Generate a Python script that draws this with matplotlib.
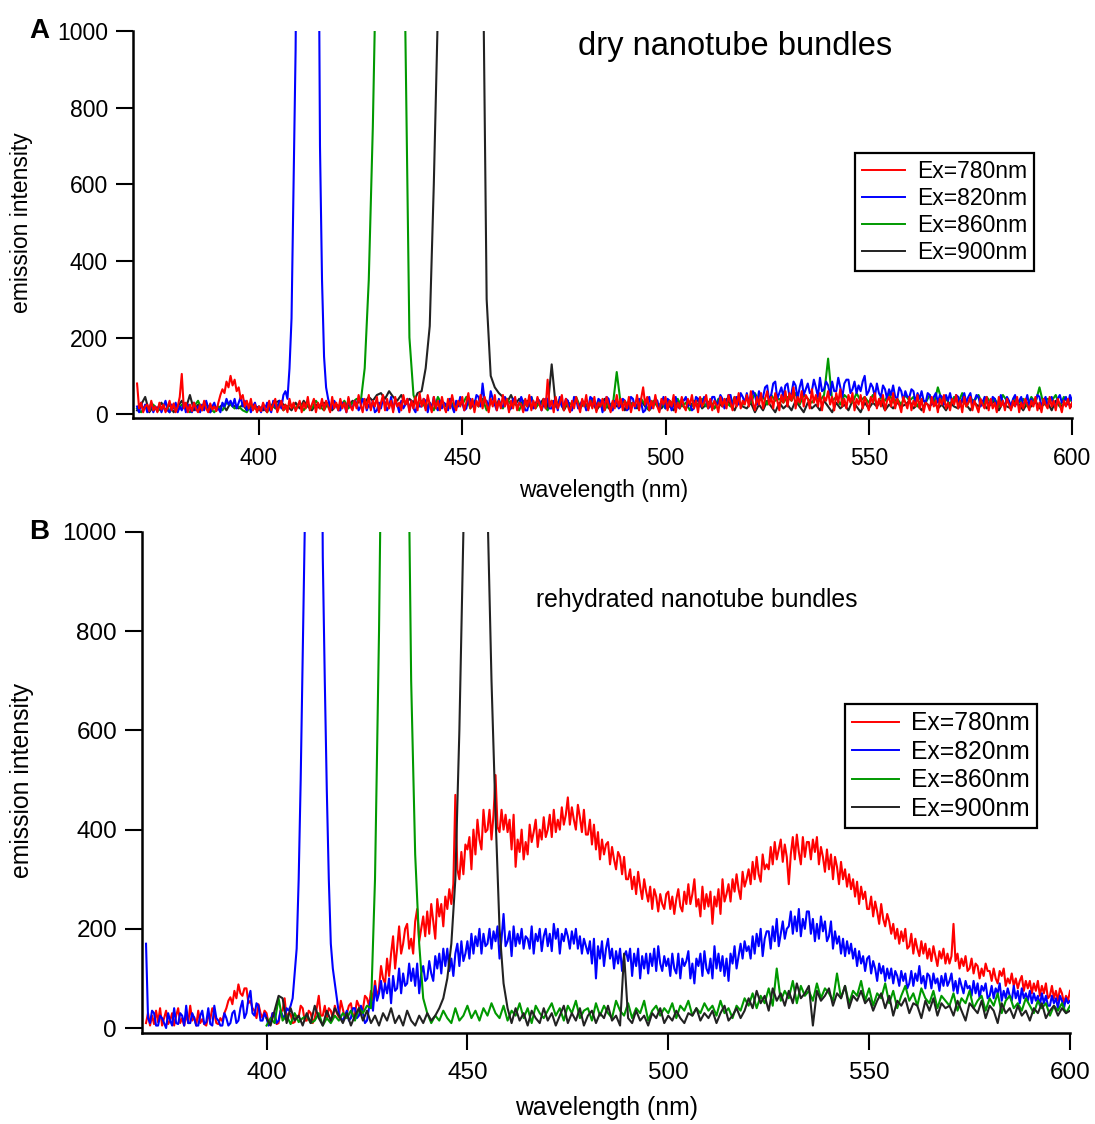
import numpy as np
import matplotlib
matplotlib.use('Agg')
import matplotlib.pyplot as plt

plt.rcParams['font.family'] = ['Liberation Sans', 'DejaVu Sans']

# Wavelength grids (nm)
wl_full = np.arange(370, 601)            # 1 nm steps
wl_late = np.arange(400, 601)            # traces that start at 400 nm
wl_fine = np.linspace(370, 600, 461)     # 0.5 nm steps

series_labels = ['Ex=780nm', 'Ex=820nm', 'Ex=860nm', 'Ex=900nm']
series_colors = ['#ff0000', '#0000ff', '#009900', '#222222']

# ---- Panel A: dry nanotube bundles ----
# 780 / 820 nm read at 0.5 nm steps
dry_780 = [
    80, 15, 30, 5, 20, 25, 8, 35, 10, 20,
    5, 30, 12, 25, 5, 18, 35, 10, 28, 5,
    20, 45, 105, 15, 30, 5, 25, 8, 30, 15,
    5, 25, 10, 35, 15, 5, 28, 12, 20, 8,
    30, 50, 65, 55, 85, 70, 100, 75, 90, 60,
    70, 40, 50, 20, 35, 15, 40, 10, 25, 5,
    20, 8, 30, 15, 5, 35, 10, 25, 40, 5,
    20, 35, 10, 25, 5, 40, 15, 30, 8, 20,
    35, 5, 30, 15, 45, 10, 25, 40, 5, 30,
    15, 40, 10, 35, 20, 5, 45, 15, 30, 10,
    40, 15, 30, 5, 45, 20, 10, 35, 15, 50,
    25, 5, 40, 15, 50, 10, 35, 20, 45, 5,
    30, 50, 10, 40, 15, 35, 5, 45, 20, 30,
    10, 50, 25, 40, 5, 35, 15, 45, 10, 55,
    20, 40, 10, 50, 25, 5, 45, 15, 35, 10,
    45, 20, 5, 40, 15, 50, 25, 10, 35, 20,
    45, 10, 30, 55, 15, 40, 5, 35, 20, 50,
    15, 45, 25, 5, 40, 20, 50, 10, 35, 15,
    50, 20, 40, 5, 35, 15, 45, 10, 30, 25,
    5, 40, 20, 50, 10, 35, 15, 45, 25, 10,
    40, 15, 90, 20, 35, 5, 45, 15, 30, 50,
    10, 40, 20, 5, 35, 15, 45, 25, 5, 40,
    20, 50, 10, 35, 15, 45, 5, 30, 20, 40,
    10, 45, 25, 5, 35, 15, 50, 20, 40, 10,
    35, 15, 45, 5, 30, 20, 50, 10, 40, 70,
    25, 45, 10, 35, 15, 50, 20, 5, 40, 25,
    45, 10, 35, 20, 50, 5, 30, 15, 45, 20,
    10, 40, 25, 50, 15, 35, 5, 45, 20, 30,
    50, 15, 40, 10, 35, 25, 5, 45, 20, 40,
    15, 50, 30, 10, 45, 20, 55, 15, 35, 25,
    50, 20, 60, 30, 10, 45, 25, 55, 15, 40,
    60, 25, 45, 15, 55, 35, 10, 50, 30, 60,
    20, 55, 35, 70, 15, 45, 30, 60, 20, 50,
    40, 15, 65, 30, 50, 20, 55, 10, 45, 35,
    60, 25, 45, 10, 55, 30, 65, 20, 40, 15,
    50, 30, 55, 10, 40, 25, 50, 15, 45, 30,
    10, 45, 30, 55, 15, 40, 20, 50, 10, 35,
    45, 20, 55, 15, 40, 25, 5, 45, 30, 15,
    45, 10, 35, 20, 50, 15, 40, 5, 30, 25,
    10, 45, 20, 35, 5, 40, 25, 50, 15, 30,
    10, 40, 25, 50, 15, 35, 5, 45, 20, 30,
    45, 10, 35, 20, 5, 40, 25, 15, 45, 10,
    40, 15, 30, 5, 45, 20, 35, 10, 40, 25,
    10, 35, 20, 45, 5, 30, 15, 40, 25, 10,
    35, 20, 45, 10, 30, 5, 40, 25, 15, 45,
    20, 35, 10, 40, 25, 5, 35, 20, 40, 15,
    30]
dry_820 = [
    20, 5, 30, 10, 25, 5, 15, 30, 5, 20,
    10, 25, 5, 20, 35, 10, 5, 25, 15, 30,
    5, 20, 10, 30, 5, 25, 15, 5, 30, 10,
    20, 5, 25, 10, 35, 15, 5, 20, 30, 10,
    15, 5, 30, 20, 40, 25, 35, 20, 40, 15,
    30, 45, 20, 35, 10, 25, 5, 20, 30, 10,
    20, 5, 25, 10, 30, 15, 5, 35, 20, 10,
    35, 15, 50, 60, 40, 120, 250, 600, 950, 1600,
    2500, 2500, 2500, 2500, 2500, 2500, 2500, 2500, 2500, 1600,
    700, 350, 150, 70, 40, 20, 15, 35, 25, 10,
    10, 30, 25, 5, 40, 20, 15, 35, 30, 10,
    20, 40, 35, 10, 25, 15, 35, 5, 10, 30,
    15, 40, 30, 10, 20, 45, 10, 35, 25, 5,
    35, 15, 25, 40, 10, 35, 15, 5, 30, 20,
    20, 40, 35, 5, 30, 15, 45, 20, 10, 35,
    15, 30, 25, 10, 40, 20, 5, 35, 20, 45,
    30, 10, 15, 40, 40, 20, 25, 50, 45, 20,
    80, 35, 35, 15, 60, 40, 25, 10, 40, 20,
    20, 45, 35, 10, 15, 40, 40, 20, 25, 45,
    30, 10, 10, 35, 45, 15, 20, 40, 35, 10,
    25, 40, 40, 15, 15, 35, 30, 10, 45, 20,
    20, 40, 35, 10, 10, 45, 40, 15, 25, 35,
    30, 10, 15, 45, 40, 20, 20, 40, 35, 5,
    25, 45, 40, 10, 10, 35, 30, 15, 20, 40,
    35, 10, 15, 45, 40, 15, 25, 40, 30, 5,
    10, 35, 45, 15, 20, 40, 35, 10, 25, 45,
    15, 40, 35, 10, 25, 45, 20, 15, 40, 35,
    45, 20, 30, 10, 15, 45, 40, 20, 25, 45,
    35, 15, 20, 45, 45, 25, 30, 50, 40, 15,
    25, 50, 50, 20, 35, 45, 25, 55, 45, 30,
    55, 30, 40, 60, 50, 25, 60, 40, 45, 70,
    75, 35, 50, 80, 85, 40, 55, 70, 45, 75,
    80, 45, 55, 85, 75, 40, 70, 90, 50, 65,
    80, 55, 60, 90, 70, 45, 95, 60, 65, 85,
    75, 50, 85, 60, 60, 95, 70, 45, 80, 90,
    90, 55, 65, 85, 55, 75, 60, 85, 100, 50,
    60, 80, 70, 45, 80, 55, 45, 75, 65, 40,
    65, 50, 75, 45, 40, 70, 60, 35, 60, 45,
    45, 65, 60, 30, 55, 40, 60, 35, 30, 55,
    50, 25, 45, 55, 30, 50, 45, 25, 50, 35,
    55, 30, 30, 50, 45, 20, 40, 55, 30, 45,
    55, 25, 35, 50, 45, 20, 30, 45, 40, 25,
    25, 45, 40, 20, 35, 50, 30, 20, 45, 35,
    20, 40, 50, 25, 35, 45, 25, 30, 50, 20,
    40, 25, 30, 50, 45, 20, 35, 45, 20, 40,
    45, 25, 20, 40, 50, 30, 35, 45, 25, 50,
    35]
# 860 / 900 nm read at 1 nm steps
dry_860 = [
    15, 5, 20, 10, 25, 8, 15, 30, 5, 20,
    10, 25, 15, 5, 20, 35, 10, 25, 15, 5,
    20, 10, 30, 25, 15, 20, 10, 5, 25, 15,
    10, 20, 5, 25, 15, 30, 10, 20, 25, 15,
    30, 10, 25, 15, 35, 20, 10, 30, 15, 25,
    20, 35, 15, 30, 40, 30, 120, 350, 750, 1300,
    2500, 2500, 2500, 2500, 2500, 1800, 1000, 200, 50, 20,
    35, 15, 30, 10, 45, 25, 20, 40, 15, 30,
    25, 45, 15, 35, 20, 40, 10, 30, 25, 35,
    15, 40, 25, 30, 10, 35, 20, 45, 15, 30,
    25, 10, 35, 20, 40, 15, 30, 25, 45, 20,
    30, 15, 40, 25, 35, 10, 30, 20, 110, 25,
    35, 15, 30, 20, 40, 25, 10, 35, 20, 30,
    15, 35, 25, 40, 20, 30, 10, 35, 25, 40,
    20, 35, 15, 40, 25, 30, 20, 45, 30, 25,
    40, 30, 55, 35, 45, 25, 50, 35, 40, 30,
    45, 35, 55, 25, 50, 40, 30, 45, 35, 50,
    145, 35, 45, 25, 50, 40, 30, 55, 35, 45,
    30, 50, 25, 45, 35, 55, 30, 40, 25, 50,
    35, 45, 20, 40, 30, 50, 25, 70, 35, 40,
    25, 45, 30, 55, 20, 40, 35, 50, 25, 45,
    30, 40, 20, 50, 35, 25, 45, 30, 40, 20,
    45, 30, 70, 25, 40, 35, 50, 20, 45, 30,
    40]
dry_900 = [
    10, 25, 45, 5, 20, 15, 30, 10, 25, 5,
    20, 35, 15, 50, 10, 25, 15, 30, 5, 20,
    15, 25, 10, 30, 20, 15, 25, 10, 20, 15,
    20, 10, 25, 15, 30, 35, 25, 20, 10, 30,
    15, 35, 20, 10, 25, 15, 30, 20, 10, 25,
    15, 30, 20, 35, 25, 40, 30, 45, 35, 50,
    55, 40, 60, 45, 35, 50, 25, 40, 30, 55,
    60, 120, 230, 600, 1050, 2500, 2500, 2500, 2500, 2500,
    2500, 2500, 2500, 2500, 2500, 1300, 300, 100, 70, 55,
    45, 30, 50, 25, 40, 20, 35, 15, 30, 25,
    40, 15, 130, 20, 35, 10, 30, 25, 40, 15,
    30, 20, 35, 10, 25, 40, 15, 30, 20, 35,
    10, 25, 30, 15, 35, 20, 10, 30, 25, 15,
    30, 20, 10, 35, 25, 15, 30, 20, 40, 15,
    25, 35, 15, 30, 20, 40, 25, 10, 35, 20,
    15, 30, 5, 25, 10, 35, 20, 5, 30, 15,
    25, 10, 35, 20, 5, 30, 15, 25, 10, 35,
    20, 5, 30, 15, 25, 10, 35, 20, 5, 30,
    15, 30, 20, 35, 10, 25, 15, 30, 20, 25,
    35, 15, 25, 10, 30, 20, 35, 15, 25, 10,
    30, 20, 15, 35, 25, 10, 30, 20, 35, 15,
    25, 35, 10, 30, 20, 15, 35, 25, 10, 30,
    20, 35, 15, 25, 30, 10, 35, 20, 25, 30,
    20]

# ---- Panel B: rehydrated nanotube bundles ----
# 780 / 820 nm read at 0.5 nm steps
wet_780 = [
    10, 30, 5, 25, 8, 35, 12, 40, 5, 20,
    35, 8, 15, 30, 5, 25, 40, 10, 20, 5,
    28, 10, 45, 15, 22, 5, 35, 10, 18, 8,
    5, 25, 18, 40, 30, 10, 8, 20, 14, 30,
    40, 55, 62, 48, 75, 60, 88, 70, 65, 80,
    80, 50, 55, 40, 35, 20, 48, 30, 20, 35,
    30, 10, 15, 30, 25, 8, 10, 35, 35, 60,
    18, 30, 28, 10, 12, 25, 22, 45, 40, 15,
    15, 35, 30, 10, 20, 40, 65, 25, 25, 45,
    18, 40, 35, 20, 45, 30, 22, 55, 38, 20,
    30, 45, 50, 25, 28, 55, 45, 30, 38, 65,
    60, 45, 75, 55, 95, 60, 80, 125, 100, 90,
    140, 105, 150, 185, 120, 160, 205, 150, 170, 200,
    210, 160, 180, 150, 215, 240, 175, 200, 225, 185,
    235, 190, 250, 215, 180, 260, 225, 250, 205, 265,
    240, 280, 250, 290, 470, 320, 300, 355, 310, 370,
    360, 385, 320, 400, 350, 420, 380, 360, 440, 395,
    400, 440, 380, 430, 510, 405, 395, 440, 400, 430,
    395, 420, 360, 430, 325, 380, 355, 400, 340, 375,
    350, 410, 375, 395, 420, 365, 400, 380, 425, 385,
    400, 430, 385, 440, 395, 420, 400, 445, 410, 430,
    465, 410, 445, 420, 400, 450, 425, 395, 440, 390,
    390, 420, 370, 410, 360, 395, 340, 380, 350, 370,
    375, 330, 365, 340, 320, 355, 345, 310, 345, 300,
    300, 320, 280, 305, 270, 315, 285, 260, 300, 275,
    255, 285, 240, 280, 265, 235, 270, 250, 240, 270,
    275, 240, 265, 230, 260, 280, 245, 235, 275, 250,
    290, 250, 270, 300, 245, 260, 225, 285, 240, 270,
    245, 275, 210, 265, 245, 280, 230, 300, 255, 270,
    290, 255, 300, 275, 310, 280, 260, 315, 285, 300,
    320, 290, 335, 300, 345, 310, 295, 350, 320, 330,
    320, 365, 330, 375, 340, 360, 380, 335, 370, 345,
    290, 350, 385, 340, 390, 355, 330, 385, 345, 375,
    375, 340, 380, 355, 385, 330, 365, 345, 315, 360,
    320, 350, 300, 345, 325, 290, 335, 300, 320, 285,
    310, 280, 300, 265, 295, 250, 285, 260, 275, 240,
    240, 265, 225, 255, 235, 210, 250, 220, 205, 230,
    215, 190, 210, 180, 200, 170, 195, 175, 200, 160,
    165, 190, 150, 180, 160, 145, 175, 150, 170, 140,
    160, 135, 165, 145, 125, 155, 140, 160, 130, 150,
    130, 145, 210, 135, 150, 120, 140, 125, 145, 115,
    120, 140, 110, 130, 125, 100, 120, 105, 130, 115,
    115, 95, 120, 100, 90, 115, 105, 120, 85, 100,
    90, 110, 85, 100, 80, 95, 105, 75, 95, 80,
    95, 70, 90, 75, 95, 65, 85, 70, 90, 60,
    65, 85, 60, 75, 55, 80, 70, 50, 65, 55,
    75]
wet_820 = [
    170, 20, 10, 35, 30, 5, 5, 25, 20, 10,
    0, 30, 15, 5, 40, 10, 8, 30, 25, 5,
    45, 10, 10, 30, 20, 5, 5, 25, 35, 8,
    12, 40, 8, 5, 45, 20, 15, 5, 5, 30,
    20, 5, 10, 30, 35, 10, 15, 40, 55, 20,
    30, 60, 75, 30, 25, 50, 45, 15, 15, 30,
    20, 5, 10, 30, 30, 10, 15, 35, 25, 20,
    40, 35, 45, 60, 110, 160, 300, 500, 750, 1000,
    1500, 2000, 2500, 2500, 2500, 2500, 2500, 1600, 950, 700,
    480, 300, 170, 120, 90, 60, 30, 20, 15, 25,
    35, 15, 20, 40, 40, 20, 25, 45, 30, 10,
    15, 40, 60, 35, 85, 55, 70, 95, 60, 90,
    70, 100, 50, 105, 75, 80, 120, 70, 110, 85,
    90, 130, 95, 120, 85, 130, 70, 110, 125, 95,
    100, 135, 110, 95, 145, 120, 150, 110, 160, 125,
    160, 115, 140, 105, 150, 170, 125, 175, 135, 150,
    175, 140, 190, 150, 185, 165, 200, 150, 190, 165,
    170, 200, 160, 195, 175, 205, 140, 180, 230, 165,
    175, 195, 145, 205, 165, 190, 170, 200, 160, 185,
    180, 160, 205, 150, 190, 175, 200, 155, 185, 200,
    165, 190, 155, 210, 180, 200, 150, 190, 175, 200,
    185, 160, 195, 170, 200, 160, 185, 150, 180, 165,
    150, 175, 130, 180, 100, 165, 140, 175, 125, 160,
    180, 140, 160, 120, 155, 130, 160, 115, 145, 155,
    135, 160, 105, 150, 125, 160, 100, 145, 120, 150,
    110, 150, 125, 160, 115, 165, 130, 115, 145, 125,
    140, 105, 150, 120, 110, 150, 100, 140, 125, 135,
    155, 100, 130, 90, 140, 125, 150, 105, 155, 120,
    110, 140, 100, 165, 120, 150, 115, 145, 105, 140,
    95, 150, 130, 165, 120, 145, 170, 140, 175, 155,
    165, 140, 185, 150, 190, 165, 200, 145, 180, 195,
    195, 160, 205, 175, 220, 165, 190, 215, 180, 200,
    205, 235, 190, 225, 195, 240, 185, 220, 200, 235,
    235, 190, 220, 175, 210, 180, 225, 195, 215, 175,
    185, 215, 160, 195, 170, 185, 150, 180, 145, 175,
    150, 170, 140, 160, 125, 155, 130, 145, 115, 140,
    145, 110, 135, 120, 95, 130, 110, 125, 95, 120,
    100, 120, 90, 115, 105, 85, 115, 95, 110, 80,
    90, 115, 85, 110, 95, 125, 90, 105, 80, 110,
    105, 80, 110, 90, 100, 75, 105, 85, 110, 85,
    95, 110, 75, 95, 70, 100, 85, 70, 95, 80,
    85, 65, 95, 70, 90, 60, 85, 75, 90, 60,
    65, 85, 60, 80, 70, 90, 55, 75, 60, 80,
    65, 55, 85, 60, 75, 50, 80, 60, 70, 55,
    75, 50, 70, 55, 65, 45, 70, 50, 65, 45,
    45, 65, 50, 60, 40, 65, 55, 40, 60, 50,
    55]
# 860 / 900 nm start at 400 nm, 1 nm steps
wet_860 = [
    5, 20, 10, 60, 15, 25, 8, 30, 12, 20,
    25, 10, 15, 30, 5, 20, 10, 25, 15, 30,
    20, 35, 15, 40, 30, 45, 40, 300, 800, 1500,
    2500, 2500, 2500, 2500, 2500, 1400, 700, 350, 170, 60,
    30, 10, 25, 15, 35, 20, 10, 40, 15, 25,
    45, 20, 35, 15, 40, 25, 50, 30, 20, 45,
    15, 35, 25, 50, 20, 40, 10, 45, 30, 20,
    35, 50, 25, 40, 15, 45, 30, 55, 20, 35,
    40, 15, 50, 25, 45, 30, 20, 55, 35, 25,
    50, 20, 40, 30, 55, 15, 35, 45, 25, 40,
    30, 50, 20, 45, 35, 55, 25, 40, 30, 50,
    35, 45, 25, 55, 30, 40, 20, 45, 35, 60,
    45, 70, 40, 65, 50, 80, 45, 120, 55, 75,
    60, 95, 50, 85, 65, 75, 55, 90, 60, 80,
    70, 55, 110, 60, 85, 50, 75, 65, 95, 55,
    80, 45, 70, 60, 90, 50, 75, 40, 65, 85,
    55, 70, 45, 80, 60, 50, 75, 40, 65, 55,
    45, 70, 35, 60, 50, 75, 40, 55, 65, 35,
    60, 45, 70, 30, 55, 65, 40, 50, 35, 60,
    45, 30, 55, 40, 50, 25, 45, 35, 50, 30,
    45]
wet_900 = [
    20, 5, 35, 65, 60, 10, 40, 15, 25, 5,
    30, 10, 45, 20, 5, 35, 15, 40, 25, 10,
    30, 5, 25, 40, 15, 35, 10, 25, 5, 30,
    15, 40, 10, 25, 5, 35, 15, 5, 25, 10,
    30, 15, 25, 40, 60, 100, 170, 300, 600, 1000,
    2500, 2500, 2500, 2500, 2500, 1050, 700, 430, 200, 90,
    40, 10, 40, 15, 30, 5, 35, 20, 10, 40,
    15, 30, 5, 25, 45, 10, 30, 15, 40, 5,
    25, 35, 10, 30, 20, 45, 15, 25, 5, 150,
    20, 10, 35, 15, 25, 5, 30, 20, 40, 10,
    25, 15, 35, 20, 10, 30, 25, 40, 15, 30,
    20, 35, 10, 30, 45, 15, 25, 40, 20, 35,
    60, 40, 75, 50, 65, 35, 80, 55, 70, 45,
    75, 50, 90, 60, 70, 85, 5, 75, 55, 65,
    80, 45, 70, 60, 85, 40, 65, 55, 75, 50,
    60, 35, 55, 70, 40, 65, 25, 55, 45, 60,
    30, 50, 45, 20, 55, 35, 60, 25, 50, 40,
    45, 25, 55, 35, 15, 50, 40, 30, 55, 20,
    45, 35, 10, 50, 30, 40, 20, 45, 25, 35,
    15, 40, 30, 50, 20, 35, 45, 25, 40, 30,
    35]

W, H = 1095, 1124


def preparar_ejes(ax, fs):
    ax.set_xlim(369, 600)
    ax.set_ylim(-10, 1000)
    ax.spines['top'].set_visible(False)
    ax.spines['right'].set_visible(False)
    for s in ['left', 'bottom']:
        ax.spines[s].set_linewidth(1.8)
    ax.set_xticks([400, 450, 500, 550, 600])
    ax.set_yticks([0, 200, 400, 600, 800, 1000])
    ax.tick_params(direction='out', length=12, width=1.5, labelsize=fs)
    ax.tick_params(axis='y', pad=6)
    ax.tick_params(axis='x', pad=9)


def poner_leyenda(ax, handles, fs, corner):
    leg = ax.legend(handles, series_labels, loc='upper right',
                    bbox_to_anchor=(corner[0] / W, 1 - corner[1] / H),
                    bbox_transform=fig.transFigure, fontsize=fs,
                    fancybox=False, edgecolor='black', framealpha=1,
                    handlelength=1.9, handletextpad=0.5, labelspacing=0.18,
                    borderpad=0.3, borderaxespad=0)
    leg.get_frame().set_linewidth(1.6)
    for l in leg.get_lines():
        l.set_linewidth(1.4)


fig = plt.figure(figsize=(W / 100, H / 100), dpi=100)

# panel A
axA = fig.add_axes([133 / W, 1 - 418 / H, (1072 - 133) / W, (418 - 31) / H])
preparar_ejes(axA, 16.5)
dry = [(wl_fine, dry_780), (wl_fine, dry_820), (wl_full, dry_860), (wl_full, dry_900)]
linesA = [None] * 4
for i in [3, 2, 1, 0]:
    linesA[i], = axA.plot(dry[i][0], dry[i][1], color=series_colors[i], lw=1.5)
poner_leyenda(axA, linesA, 16.5, (1034, 153))
fig.text(735 / W, 1 - 46 / H, 'dry nanotube bundles', fontsize=23.5,
         ha='center', va='center')
fig.text(604 / W, 1 - 490 / H, 'wavelength (nm)', fontsize=16.5,
         ha='center', va='center')
fig.text(22 / W, 1 - 223 / H, 'emission intensity', fontsize=16.5,
         rotation=90, ha='center', va='center')
fig.text(39 / W, 1 - 31 / H, 'A', fontsize=20, fontweight='bold',
         ha='center', va='center')

# panel B
axB = fig.add_axes([142 / W, 1 - 1033 / H, (1070 - 142) / W, (1033 - 532) / H])
preparar_ejes(axB, 17.5)
wet = [(wl_fine, wet_780), (wl_fine, wet_820), (wl_late, wet_860), (wl_late, wet_900)]
linesB = []
for i in range(4):
    l, = axB.plot(wet[i][0], wet[i][1], color=series_colors[i], lw=1.5)
    linesB.append(l)
poner_leyenda(axB, linesB, 17.7, (1037, 704))
fig.text(697 / W, 1 - 600 / H, 'rehydrated nanotube bundles', fontsize=17.8,
         ha='center', va='center')
fig.text(607 / W, 1 - 1108 / H, 'wavelength (nm)', fontsize=17.8,
         ha='center', va='center')
fig.text(22 / W, 1 - 780 / H, 'emission intensity', fontsize=17.8,
         rotation=90, ha='center', va='center')
fig.text(39 / W, 1 - 532 / H, 'B', fontsize=20, fontweight='bold',
         ha='center', va='center')

fig.savefig('out.png', dpi=100)
